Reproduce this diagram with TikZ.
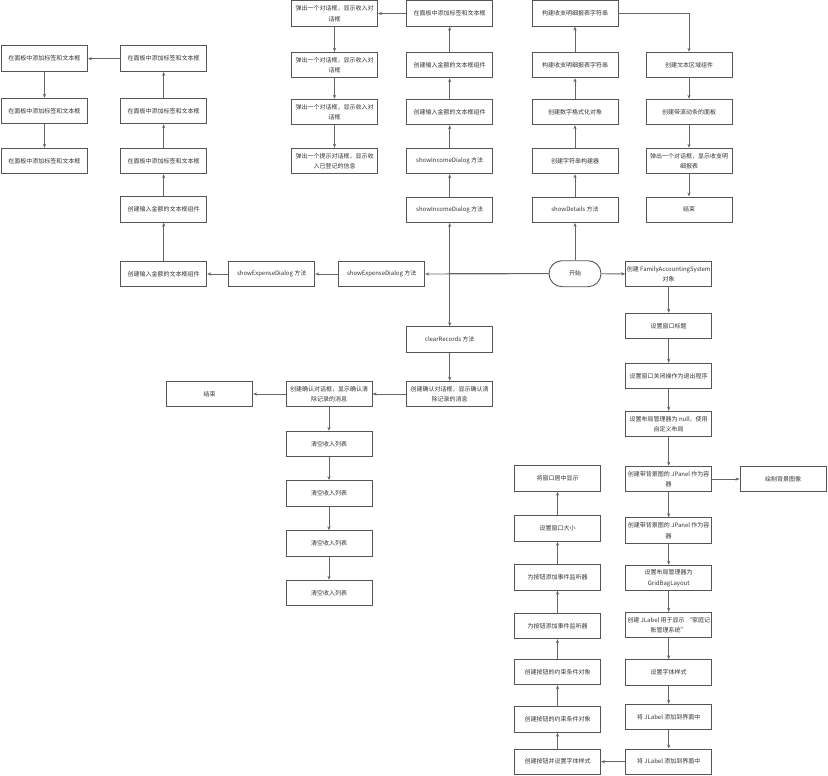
\documentclass[tikz,border=0pt]{standalone}
\usepackage{fontspec}
\setmainfont{Noto Sans CJK SC}
\usetikzlibrary{arrows.meta}
\definecolor{boxc}{HTML}{555555}
\definecolor{linec}{HTML}{666666}
\definecolor{txt}{HTML}{333333}
\tikzset{
  box/.style={draw=boxc, line width=0.9pt, fill=white, minimum width=86pt, minimum height=25.5pt,
    inner sep=1pt, align=center, font=\fontsize{6}{10.5}\selectfont, text=txt},
  term/.style={box, minimum width=52pt, minimum height=26pt, rounded corners=13pt},
  arr/.style={draw=linec, line width=0.9pt, -{Stealth[length=4pt,width=3.2pt]}},
}
\begin{document}
\begin{tikzpicture}[x=1pt,y=-1pt]
\useasboundingbox (0,0) rectangle (828,776);
% left columns
\node[box] (a1) at (44.5,58.7) {在面板中添加标签和文本框};
\node[box] (a2) at (44.5,111) {在面板中添加标签和文本框};
\node[box] (a3) at (44.5,161) {在面板中添加标签和文本框};
\node[box] (b1) at (163.7,58.7) {在面板中添加标签和文本框};
\node[box] (b2) at (163.7,111) {在面板中添加标签和文本框};
\node[box] (b3) at (163.7,161) {在面板中添加标签和文本框};
\node[box] (b4) at (163.7,209.5) {创建输入金额的文本框组件};
\node[box] (b5) at (163.7,274) {创建输入金额的文本框组件};
\node[box] (se1) at (271.7,274) {showExpenseDialog 方法};
\node[box] (se2) at (381.7,274) {showExpenseDialog 方法};
% column C
\node[box] (c1) at (334.5,13.5) {弹出一个对话框，显示收入对\\话框};
\node[box] (c2) at (334.5,65) {弹出一个对话框，显示收入对\\话框};
\node[box] (c3) at (334.5,112) {弹出一个对话框，显示收入对\\话框};
\node[box] (c4) at (334.5,161) {弹出一个提示对话框，显示收\\入已登记的信息};
% column D
\node[box] (d1) at (449.7,13.5) {在面板中添加标签和文本框};
\node[box] (d2) at (449.7,65) {创建输入金额的文本框组件};
\node[box] (d3) at (449.7,112) {创建输入金额的文本框组件};
\node[box] (d4) at (449.7,161) {showIncomeDialog 方法};
\node[box] (d5) at (449.7,209.7) {showIncomeDialog 方法};
% column E
\node[box] (e1) at (575,13.5) {构建收支明细报表字符串};
\node[box] (e2) at (575,65) {构建收支明细报表字符串};
\node[box] (e3) at (575,112) {创建数字格式化对象};
\node[box] (e4) at (575,161) {创建字符串构建器};
\node[box] (e5) at (575,209.7) {showDetails 方法};
% column F
\node[box] (f1) at (689,65) {创建文本区域组件};
\node[box] (f2) at (689,112) {创建带滚动条的面板};
\node[box] (f3) at (689,161) {弹出一个对话框，显示收支明\\细报表};
\node[box] (f4) at (689,209.7) {结束};
% start
\node[term] (start) at (575,273.7) {开始};
% column G
\node[box] (g1) at (668.7,274) {创建 FamilyAccountingSystem\\对象};
\node[box] (g2) at (668.7,326) {设置窗口标题};
\node[box] (g3) at (668.7,376) {设置窗口关闭操作为退出程序};
\node[box] (g4) at (668.7,424) {设置布局管理器为 null，使用\\自定义布局};
\node[box] (g5) at (668.7,479) {创建带背景图的 JPanel 作为容\\器};
\node[box] (g6) at (668.7,530.5) {创建带背景图的 JPanel 作为容\\器};
\node[box] (g7) at (668.7,578) {设置布局管理器为\\GridBagLayout};
\node[box] (g8) at (668.7,625) {创建 JLabel 用于显示 “家庭记\\账管理系统”};
\node[box] (g9) at (668.7,672.5) {设置字体样式};
\node[box] (g10) at (668.7,717) {将 JLabel 添加到界面中};
\node[box] (g11) at (668.7,761.7) {将 JLabel 添加到界面中};
\node[box] (bg) at (783,479) {绘制背景图像};
% column H
\node[box] (h1) at (557.5,478.5) {将窗口居中显示};
\node[box] (h2) at (557.5,528.5) {设置窗口大小};
\node[box] (h3) at (557.5,577.5) {为按钮添加事件监听器};
\node[box] (h4) at (557.5,626) {为按钮添加事件监听器};
\node[box] (h5) at (557.5,672) {创建按钮的约束条件对象};
\node[box] (h6) at (557.5,719.5) {创建按钮的约束条件对象};
\node[box] (h7) at (557.5,761.7) {创建按钮并设置字体样式};
% clear
\node[box] (cr) at (449.7,339.5) {clearRecords 方法};
\node[box] (cr2) at (449.7,394) {创建确认对话框，显示确认清\\除记录的消息};
\node[box] (cr1) at (329,394) {创建确认对话框，显示确认清\\除记录的消息};
\node[box] (end2) at (209.7,394) {结束};
\node[box] (k1) at (329,444) {清空收入列表};
\node[box] (k2) at (329,493.3) {清空收入列表};
\node[box] (k3) at (329,543.5) {清空收入列表};
\node[box] (k4) at (329,593) {清空收入列表};
% edges
\draw[arr] (b1) -- (a1);
\draw[arr] (a1) -- (a2);
\draw[arr] (a2) -- (a3);
\draw[arr] (b2) -- (b1);
\draw[arr] (b3) -- (b2);
\draw[arr] (b4) -- (b3);
\draw[arr] (b5) -- (b4);
\draw[arr] (se1) -- (b5);
\draw[arr] (se2) -- (se1);
\draw[arr] (start.west) -- (se2.east);
\draw[arr] (start.west) -| (d5.south);
\draw[arr] (start.west) -| (cr.north);
\draw[arr] (d5) -- (d4);
\draw[arr] (d4) -- (d3);
\draw[arr] (d3) -- (d2);
\draw[arr] (d2) -- (d1);
\draw[arr] (d1) -- (c1);
\draw[arr] (c1) -- (c2);
\draw[arr] (c2) -- (c3);
\draw[arr] (c3) -- (c4);
\draw[arr] (start) -- (e5);
\draw[arr] (e5) -- (e4);
\draw[arr] (e4) -- (e3);
\draw[arr] (e3) -- (e2);
\draw[arr] (e2) -- (e1);
\draw[arr] (e1.east) -| (f1.north);
\draw[arr] (f1) -- (f2);
\draw[arr] (f2) -- (f3);
\draw[arr] (f3) -- (f4);
\draw[arr] (start) -- (g1);
\draw[arr] (g1) -- (g2);
\draw[arr] (g2) -- (g3);
\draw[arr] (g3) -- (g4);
\draw[arr] (g4) -- (g5);
\draw[arr] (g5) -- (g6);
\draw[arr] (g6) -- (g7);
\draw[arr] (g7) -- (g8);
\draw[arr] (g8) -- (g9);
\draw[arr] (g9) -- (g10);
\draw[arr] (g10) -- (g11);
\draw[arr] (g5) -- (bg);
\draw[arr] (g11) -- (h7);
\draw[arr] (h7) -- (h6);
\draw[arr] (h6) -- (h5);
\draw[arr] (h5) -- (h4);
\draw[arr] (h4) -- (h3);
\draw[arr] (h3) -- (h2);
\draw[arr] (h2) -- (h1);
\draw[arr] (cr) -- (cr2);
\draw[arr] (cr2) -- (cr1);
\draw[arr] (cr1) -- (end2);
\draw[arr] (cr1) -- (k1);
\draw[arr] (k1) -- (k2);
\draw[arr] (k2) -- (k3);
\draw[arr] (k3) -- (k4);
\end{tikzpicture}
\end{document}
